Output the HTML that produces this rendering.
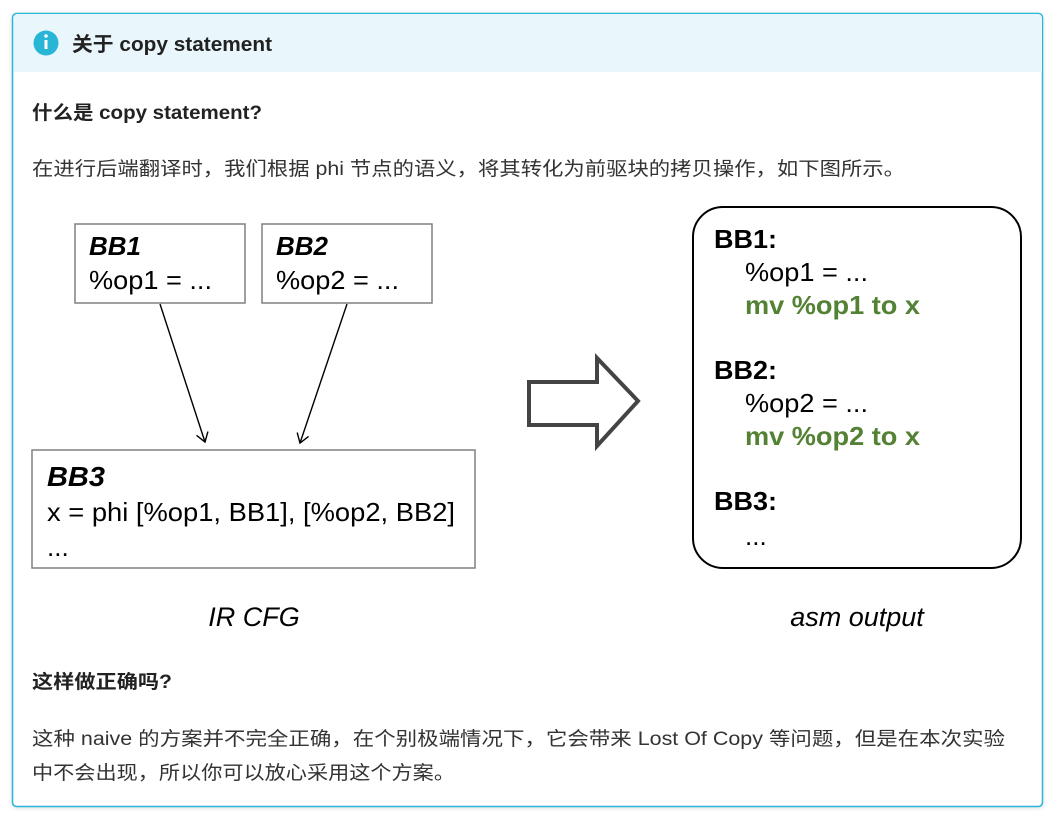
<!DOCTYPE html>
<html><head><meta charset="utf-8">
<style>
html,body{margin:0;padding:0;background:#fff;width:1061px;height:823px;overflow:hidden}
svg text{font-family:"Liberation Sans","Noto Sans CJK SC",sans-serif}
</style></head>
<body>
<svg width="1061" height="823" xmlns="http://www.w3.org/2000/svg">
<defs>
<filter id="sh" x="-5%" y="-5%" width="110%" height="110%"><feDropShadow dx="0" dy="1" stdDeviation="2" flood-color="#000" flood-opacity="0.12"/></filter>
<marker id="ah" markerWidth="14" markerHeight="14" refX="10" refY="7" orient="auto" markerUnits="userSpaceOnUse"><path d="M1,1 L10,7 L1,13" fill="none" stroke="#000" stroke-width="1.4"/></marker>
</defs>
<rect x="12.5" y="13.5" width="1030" height="793" rx="4" fill="#fff" stroke="#29b6d6" stroke-width="1.5" filter="url(#sh)"/>
<path d="M13.5,72 V18 a4,4 0 0 1 4,-4 H1038 a4,4 0 0 1 4,4 V72 Z" fill="#e9f6fb"/>
<circle cx="46" cy="43" r="12.5" fill="#29b6d6"/>
<rect x="44.5" y="40" width="3" height="9" fill="#fff"/><circle cx="46" cy="36" r="1.8" fill="#fff"/>
<text x="72" y="51" font-size="20" font-weight="bold" fill="#222" textLength="200" lengthAdjust="spacingAndGlyphs">关于 copy statement</text>
<text x="32" y="119" font-size="19" font-weight="bold" fill="#222" textLength="230" lengthAdjust="spacingAndGlyphs">什么是 copy statement?</text>
<text x="32" y="175" font-size="19" fill="#333" textLength="873" lengthAdjust="spacingAndGlyphs">在进行后端翻译时，我们根据 phi 节点的语义，将其转化为前驱块的拷贝操作，如下图所示。</text>

<rect x="75" y="224" width="170" height="79" fill="#fff" stroke="#808080" stroke-width="1.5"/>
<text x="89" y="255" font-size="26" font-weight="bold" font-style="italic" textLength="52" lengthAdjust="spacingAndGlyphs">BB1</text>
<text x="89" y="289" font-size="26" textLength="123" lengthAdjust="spacingAndGlyphs">%op1 = ...</text>
<rect x="262" y="224" width="170" height="79" fill="#fff" stroke="#808080" stroke-width="1.5"/>
<text x="276" y="255" font-size="26" font-weight="bold" font-style="italic" textLength="52" lengthAdjust="spacingAndGlyphs">BB2</text>
<text x="276" y="289" font-size="26" textLength="123" lengthAdjust="spacingAndGlyphs">%op2 = ...</text>
<line x1="160" y1="304" x2="205" y2="442" stroke="#000" stroke-width="1.4" marker-end="url(#ah)"/>
<line x1="347" y1="304" x2="300" y2="443" stroke="#000" stroke-width="1.4" marker-end="url(#ah)"/>
<rect x="32" y="450" width="443" height="118" fill="#fff" stroke="#808080" stroke-width="1.5"/>
<text x="47" y="486" font-size="28" font-weight="bold" font-style="italic" textLength="58" lengthAdjust="spacingAndGlyphs">BB3</text>
<text x="47" y="521" font-size="26" textLength="408" lengthAdjust="spacingAndGlyphs">x = phi [%op1, BB1], [%op2, BB2]</text>
<text x="47" y="556" font-size="26">...</text>
<text x="254" y="626" font-size="27" font-style="italic" text-anchor="middle">IR CFG</text>

<path d="M529,382 H597 V358 L638,401 L597,446 V425 H529 Z" fill="#fff" stroke="#444" stroke-width="4" stroke-linejoin="miter"/>

<rect x="693" y="207" width="328" height="361" rx="30" fill="#fff" stroke="#000" stroke-width="2"/>
<text x="714" y="248" font-size="26" font-weight="bold" textLength="63" lengthAdjust="spacingAndGlyphs">BB1:</text>
<text x="745" y="281" font-size="26" textLength="123" lengthAdjust="spacingAndGlyphs">%op1 = ...</text>
<text x="745" y="314" font-size="26" font-weight="bold" fill="#548235" textLength="175" lengthAdjust="spacingAndGlyphs">mv %op1 to x</text>
<text x="714" y="379" font-size="26" font-weight="bold" textLength="63" lengthAdjust="spacingAndGlyphs">BB2:</text>
<text x="745" y="412" font-size="26" textLength="123" lengthAdjust="spacingAndGlyphs">%op2 = ...</text>
<text x="745" y="445" font-size="26" font-weight="bold" fill="#548235" textLength="175" lengthAdjust="spacingAndGlyphs">mv %op2 to x</text>
<text x="714" y="510" font-size="26" font-weight="bold" textLength="63" lengthAdjust="spacingAndGlyphs">BB3:</text>
<text x="745" y="545" font-size="26">...</text>
<text x="857" y="626" font-size="27" font-style="italic" text-anchor="middle">asm output</text>

<text x="32" y="688" font-size="19" font-weight="bold" fill="#222" textLength="140" lengthAdjust="spacingAndGlyphs">这样做正确吗?</text>
<text x="32" y="745" font-size="19" fill="#333" textLength="973" lengthAdjust="spacingAndGlyphs">这种 naive 的方案并不完全正确，在个别极端情况下，它会带来 Lost Of Copy 等问题，但是在本次实验</text>
<text x="32" y="779" font-size="19" fill="#333" textLength="423" lengthAdjust="spacingAndGlyphs">中不会出现，所以你可以放心采用这个方案。</text>
</svg>
</body></html>
